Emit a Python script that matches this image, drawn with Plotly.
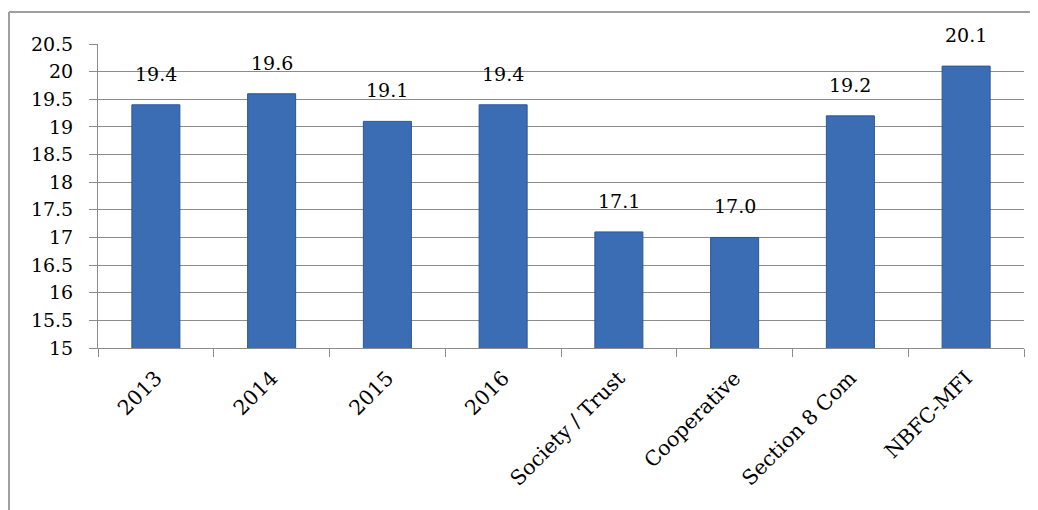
import plotly.graph_objects as go

# =============================================================================
# Data
# =============================================================================
categories = ["2013", "2014", "2015", "2016", "Society / Trust",
              "Cooperative", "Section 8 Com", "NBFC-MFI"]
values     = [19.4, 19.6, 19.1, 19.4, 17.1, 17.0, 19.2, 20.1]
y_ticks    = [15, 15.5, 16, 16.5, 17, 17.5, 18, 18.5, 19, 19.5, 20, 20.5]
y_labels   = ["15", "15.5", "16", "16.5", "17", "17.5", "18", "18.5",
              "19", "19.5", "20", "20.5"]

FONT = "DejaVu Serif"
GRID = "#8c8c8c"

# page body has an 8px margin; figure sized so it fits the 1038x510 window.
# plot area (figure px): x 90..1016, y 36..340
W, H = 1030, 502
L, R, T, B = 90, 14, 36, 162
pw, ph = W - L - R, H - T - B

fig = go.Figure()
fig.add_trace(go.Bar(
    x=categories, y=values,
    marker=dict(color="#3b6db4", line=dict(color="#2b5796", width=1)),
    showlegend=False,
))

# data labels sit ~30px above each bar (category index used as x position)
for i, v in enumerate(values):
    fig.add_annotation(
        x=i, y=v, text=f"{v:.1f}", showarrow=False,
        yanchor="middle", yshift=31,
        font=dict(family=FONT, size=19, color="#000000"),
    )

fig.update_xaxes(
    type="category", tickangle=-45, tickson="boundaries",
    ticks="outside", ticklen=8, tickcolor=GRID,
    showline=True, linecolor=GRID, linewidth=1,
    showgrid=False, ticklabelstandoff=9,
    tickfont=dict(family=FONT, size=20.5, color="#000000"),
)
fig.update_yaxes(
    range=[15, 20.5], tickvals=y_ticks, ticktext=y_labels,
    ticks="outside", ticklen=8, tickcolor=GRID,
    showline=True, linecolor=GRID, linewidth=1,
    showgrid=True, gridcolor=GRID, gridwidth=1,
    zeroline=False, ticklabelstandoff=12,
    tickfont=dict(family=FONT, size=19, color="#000000"),
)

# outer chart border: top and left edges only (rest is cropped)
bx0 = (1 - L) / pw
by0 = (H - B - 4) / ph
fig.add_shape(type="line", xref="paper", yref="paper",
              x0=bx0, x1=(W - L) / pw, y0=by0, y1=by0,
              line=dict(color="#a0a0a0", width=2))
fig.add_shape(type="line", xref="paper", yref="paper",
              x0=bx0, x1=bx0, y0=by0, y1=-B / ph,
              line=dict(color="#a0a0a0", width=2))

fig.update_layout(
    width=W, height=H,
    margin=dict(l=L, r=R, t=T, b=B),
    bargap=0.585,
    plot_bgcolor="#ffffff", paper_bgcolor="#ffffff",
)
fig.write_html("out.html")
